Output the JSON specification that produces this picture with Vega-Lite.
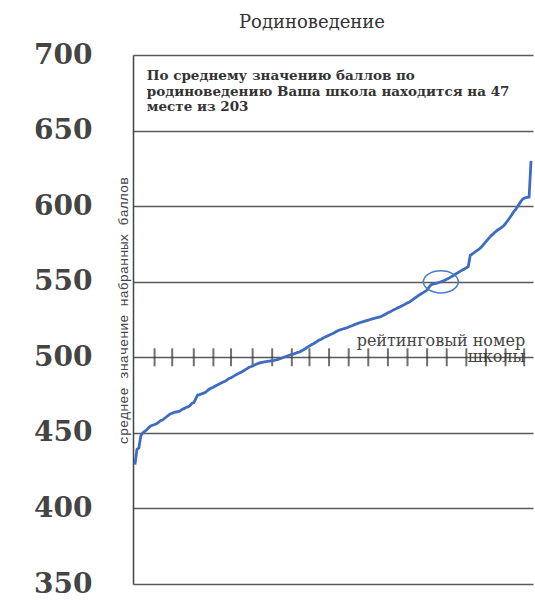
{
  "$schema": "https://vega.github.io/schema/vega-lite/v6.json",
  "autosize": {"type": "none"},
  "padding": {"left": 133, "top": 55, "right": 2, "bottom": 16},
  "width": 400,
  "height": 529,
  "background": "white",
  "config": {"view": {"stroke": null}},
  "title": {"text": "Родиноведение", "font": "DejaVu Serif", "fontSize": 18, "fontWeight": "normal", "color": "#333", "anchor": "middle", "dx": -21, "offset": 9},
  "datasets": {
    "schools": [
      {"k":1,"v":429},{"k":2,"v":439},{"k":3,"v":440},{"k":4,"v":448},{"k":5,"v":450},{"k":6,"v":451},{"k":7,"v":452},{"k":8,"v":453.5},{"k":9,"v":454.5},{"k":10,"v":455},
      {"k":11,"v":455.5},{"k":12,"v":456},{"k":13,"v":457},{"k":14,"v":458},{"k":15,"v":458.5},{"k":16,"v":459.5},{"k":17,"v":460.5},{"k":18,"v":461.5},{"k":19,"v":462.5},{"k":20,"v":463},
      {"k":21,"v":463.5},{"k":22,"v":463.8},{"k":23,"v":464},{"k":24,"v":464.5},{"k":25,"v":465.5},{"k":26,"v":466},{"k":27,"v":466.8},{"k":28,"v":467.2},{"k":29,"v":468},{"k":30,"v":469.5},
      {"k":31,"v":470},{"k":32,"v":472.5},{"k":33,"v":475},{"k":34,"v":475.3},{"k":35,"v":475.8},{"k":36,"v":476.3},{"k":37,"v":476.8},{"k":38,"v":478},{"k":39,"v":479},{"k":40,"v":479.7},
      {"k":41,"v":480.2},{"k":42,"v":481},{"k":43,"v":481.7},{"k":44,"v":482.3},{"k":45,"v":483},{"k":46,"v":483.6},{"k":47,"v":484.2},{"k":48,"v":485},{"k":49,"v":486},{"k":50,"v":486.5},
      {"k":51,"v":487.2},{"k":52,"v":488},{"k":53,"v":488.8},{"k":54,"v":489.5},{"k":55,"v":490},{"k":56,"v":490.8},{"k":57,"v":491.6},{"k":58,"v":492.3},{"k":59,"v":493.2},{"k":60,"v":493.7},
      {"k":61,"v":494.3},{"k":62,"v":494.9},{"k":63,"v":495.5},{"k":64,"v":496},{"k":65,"v":496.4},{"k":66,"v":496.7},{"k":67,"v":497},{"k":68,"v":497.2},{"k":69,"v":497.4},{"k":70,"v":497.5},
      {"k":71,"v":497.8},{"k":72,"v":498},{"k":73,"v":498.3},{"k":74,"v":498.6},{"k":75,"v":499},{"k":76,"v":499.5},{"k":77,"v":500},{"k":78,"v":500.5},{"k":79,"v":501},{"k":80,"v":501.5},
      {"k":81,"v":502},{"k":82,"v":502.3},{"k":83,"v":502.7},{"k":84,"v":503.2},{"k":85,"v":503.5},{"k":86,"v":504.3},{"k":87,"v":505},{"k":88,"v":505.8},{"k":89,"v":506.7},{"k":90,"v":507.5},
      {"k":91,"v":508.3},{"k":92,"v":509},{"k":93,"v":509.8},{"k":94,"v":510.6},{"k":95,"v":511.4},{"k":96,"v":512},{"k":97,"v":512.8},{"k":98,"v":513.4},{"k":99,"v":514},{"k":100,"v":514.6},
      {"k":101,"v":515.2},{"k":102,"v":515.8},{"k":103,"v":516.5},{"k":104,"v":517.2},{"k":105,"v":517.9},{"k":106,"v":518.3},{"k":107,"v":518.7},{"k":108,"v":519.1},{"k":109,"v":519.5},{"k":110,"v":520},
      {"k":111,"v":520.5},{"k":112,"v":521},{"k":113,"v":521.6},{"k":114,"v":522.1},{"k":115,"v":522.6},{"k":116,"v":523},{"k":117,"v":523.4},{"k":118,"v":523.8},{"k":119,"v":524.2},{"k":120,"v":524.6},
      {"k":121,"v":525},{"k":122,"v":525.4},{"k":123,"v":525.8},{"k":124,"v":526.1},{"k":125,"v":526.4},{"k":126,"v":526.7},{"k":127,"v":527.3},{"k":128,"v":528},{"k":129,"v":528.7},{"k":130,"v":529.4},
      {"k":131,"v":530},{"k":132,"v":530.7},{"k":133,"v":531.4},{"k":134,"v":532},{"k":135,"v":532.7},{"k":136,"v":533.3},{"k":137,"v":534},{"k":138,"v":534.6},{"k":139,"v":535.3},{"k":140,"v":536},
      {"k":141,"v":536.6},{"k":142,"v":537.5},{"k":143,"v":538.5},{"k":144,"v":539.4},{"k":145,"v":540.3},{"k":146,"v":541.2},{"k":147,"v":542},{"k":148,"v":542.8},{"k":149,"v":543.6},{"k":150,"v":544.5},
      {"k":151,"v":546.5},{"k":152,"v":548},{"k":153,"v":548.4},{"k":154,"v":548.8},{"k":155,"v":549.1},{"k":156,"v":549.5},{"k":157,"v":549.9},{"k":158,"v":550.4},{"k":159,"v":551},{"k":160,"v":551.6},
      {"k":161,"v":552.2},{"k":162,"v":553},{"k":163,"v":553.8},{"k":164,"v":554.6},{"k":165,"v":555.4},{"k":166,"v":556.2},{"k":167,"v":557},{"k":168,"v":557.7},{"k":169,"v":558.4},{"k":170,"v":559.2},
      {"k":171,"v":560},{"k":172,"v":567.5},{"k":173,"v":568.3},{"k":174,"v":569.2},{"k":175,"v":570.2},{"k":176,"v":571},{"k":177,"v":572.2},{"k":178,"v":573.5},{"k":179,"v":575},{"k":180,"v":576.5},
      {"k":181,"v":578},{"k":182,"v":579.5},{"k":183,"v":580.9},{"k":184,"v":582},{"k":185,"v":583.2},{"k":186,"v":584.2},{"k":187,"v":585},{"k":188,"v":586},{"k":189,"v":587},{"k":190,"v":588.5},
      {"k":191,"v":590.3},{"k":192,"v":592},{"k":193,"v":594},{"k":194,"v":596},{"k":195,"v":597.5},{"k":196,"v":599.5},{"k":197,"v":601.5},{"k":198,"v":603.5},{"k":199,"v":605},{"k":200,"v":605.5},
      {"k":201,"v":605.8},{"k":202,"v":606},{"k":203,"v":630}
    ],
    "ticks": [
      {"k":11,"v":500},{"k":20,"v":500},{"k":31,"v":500},{"k":41,"v":500},{"k":50,"v":500},{"k":61,"v":500},{"k":71,"v":500},{"k":81,"v":500},{"k":90,"v":500},{"k":100,"v":500},
      {"k":110,"v":500},{"k":120,"v":500},{"k":130,"v":500},{"k":140,"v":500},{"k":150,"v":500},{"k":160,"v":500},{"k":170,"v":500},{"k":180,"v":500},{"k":190,"v":500},{"k":199.5,"v":500}
    ],
    "notes": [
      {"k":200,"v":511,"t":"рейтинговый номер"},
      {"k":200,"v":500.2,"t":"школы"}
    ],
    "summary": [
      {"k":7,"v":690.5,"t":"По среднему значению баллов по\nродиноведению Ваша школа находится на  47\nместе из 203"}
    ]
  },
  "encoding": {
    "x": {"field": "k", "type": "quantitative", "scale": {"domain": [0, 204], "nice": false, "zero": false}, "axis": null},
    "y": {"field": "v", "type": "quantitative", "scale": {"domain": [350, 700], "nice": false, "zero": false},
      "axis": {"values": [350, 400, 450, 500, 550, 600, 650, 700], "title": "среднее значение набранных баллов",
        "titleFont": "Liberation Mono", "titleFontSize": 13.5, "titleFontWeight": "normal", "titleColor": "#444",
        "titleX": -10, "titleY": 255, "titleAngle": 270, "titleAlign": "center", "titleBaseline": "middle",
        "labelFont": "DejaVu Serif", "labelFontSize": 28, "labelFontWeight": "bold", "labelColor": "#444",
        "labelPadding": 41, "ticks": false, "domain": true, "domainColor": "#444", "domainWidth": 1.5,
        "grid": true, "gridColor": "#5a5a5a", "gridWidth": 1.5, "gridOpacity": 1}}
  },
  "layer": [
    {"data": {"name": "summary"}, "mark": {"type": "text", "align": "left", "baseline": "top", "lineBreak": "\n", "lineHeight": 15.5, "font": "DejaVu Serif", "fontSize": 13.5, "fontWeight": "bold", "color": "#333"},
      "encoding": {"text": {"field": "t"}}},
    {"data": {"name": "notes"}, "mark": {"type": "text", "align": "right", "baseline": "middle", "font": "DejaVu Serif", "fontSize": 16, "color": "#444"},
      "encoding": {"text": {"field": "t"}}},
    {"data": {"name": "ticks"}, "mark": {"type": "tick", "orient": "vertical", "size": 18, "thickness": 2, "color": "#333"}, "encoding": {}},
    {"data": {"name": "schools"}, "mark": {"type": "line", "color": "#3d6cc0", "strokeWidth": 2.8}, "encoding": {}},
    {"data": {"name": "schools"}, "transform": [{"filter": "datum.k == 157"}],
      "mark": {"type": "point", "shape": "M-1,0A1,0.63,0,1,0,1,0A1,0.63,0,1,0,-1,0Z", "size": 1225, "filled": false, "stroke": "#4a7bc8", "strokeWidth": 1.5, "opacity": 1},
      "encoding": {}}
  ]
}
